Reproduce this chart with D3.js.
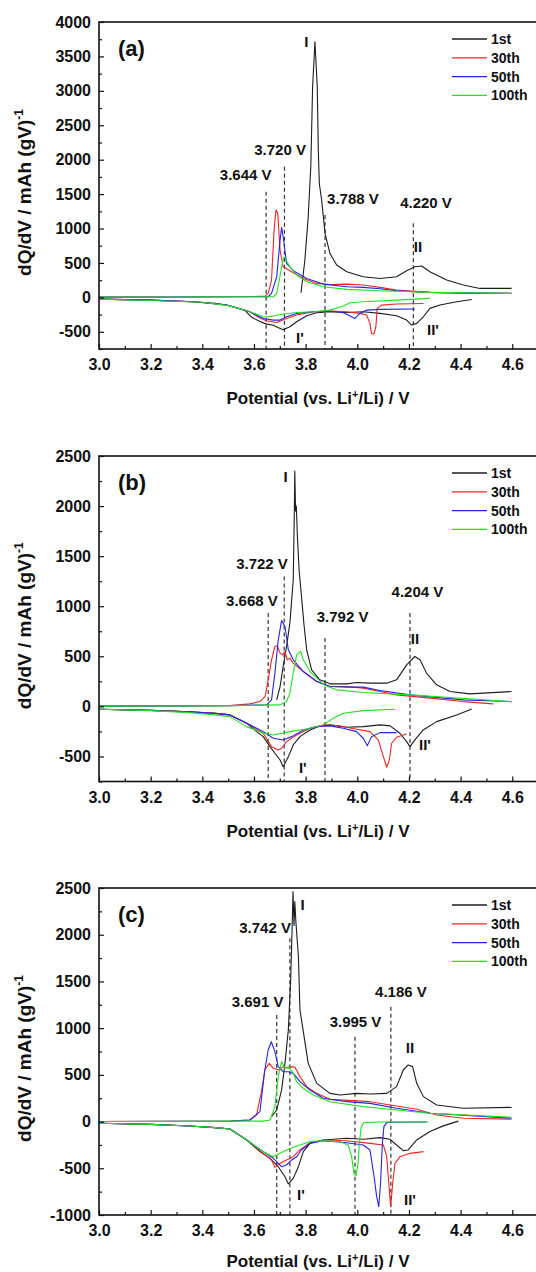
<!DOCTYPE html>
<html>
<head>
<meta charset="utf-8">
<script src="https://cdn.jsdelivr.net/npm/d3@7"></script>
<style>
body { margin: 0; background: #fff; }
svg text { font-family: "Liberation Sans", Arial, sans-serif; font-weight: bold; fill: #111; }
</style>
</head>
<body>
<svg width="536" height="1272"></svg>
<script>
// ---- data: [potential V, dQ/dV] ----
var cycles = ['1st', '30th', '50th', '100th'];
var xTicks = [3.0, 3.2, 3.4, 3.6, 3.8, 4.0, 4.2, 4.4, 4.6];
var xDomain = [3.0, 4.7];

// panel (a)
var aYDomain = [-750, 4000];
var aYTicks = [-500, 0, 500, 1000, 1500, 2000, 2500, 3000, 3500, 4000];
var aCh1 = [[3.782,67],[3.797,540],[3.810,1170],[3.820,1900],[3.827,3060],[3.836,3714],[3.845,3060],[3.849,2140],[3.853,1650],[3.862,1414],[3.875,929],[3.894,639],[3.920,469],[3.959,372],[4.023,300],[4.088,275],[4.152,300],[4.191,387],[4.223,445],[4.249,455],[4.281,372],[4.346,251],[4.410,179],[4.475,130],[4.597,130]];
var aDis1 = [[3.0,-25],[3.2,-40],[3.365,-63],[3.45,-85],[3.494,-112],[3.53,-150],[3.565,-190],[3.591,-290],[3.623,-350],[3.646,-385],[3.675,-405],[3.695,-440],[3.713,-470],[3.739,-427],[3.765,-354],[3.804,-267],[3.843,-223],[3.894,-209],[3.959,-219],[4.023,-209],[4.088,-233],[4.152,-267],[4.191,-330],[4.210,-402],[4.230,-378],[4.256,-282],[4.281,-160],[4.320,-112],[4.385,-64],[4.443,-30]];
var aCh30 = [[3.0,3],[3.3,5],[3.507,9],[3.60,12],[3.643,19],[3.655,58],[3.668,252],[3.677,929],[3.685,1268],[3.692,1220],[3.701,687],[3.713,445],[3.739,387],[3.791,275],[3.843,203],[3.894,188],[3.959,193],[4.023,179],[4.088,145],[4.152,106],[4.281,72],[4.410,58],[4.597,58]];
var aDis30 = [[3.0,-25],[3.2,-40],[3.365,-63],[3.494,-110],[3.559,-180],[3.584,-210],[3.623,-300],[3.649,-340],[3.688,-364],[3.726,-306],[3.765,-257],[3.830,-209],[3.894,-199],[3.959,-209],[4.010,-233],[4.036,-257],[4.049,-378],[4.055,-524],[4.064,-533],[4.072,-427],[4.077,-160],[4.094,-112],[4.152,-97],[4.256,-88]];
var aCh50 = [[3.0,3],[3.3,5],[3.507,9],[3.655,9],[3.668,58],[3.688,300],[3.701,832],[3.707,1016],[3.713,881],[3.726,493],[3.752,387],[3.804,275],[3.868,193],[3.959,154],[4.023,145],[4.088,125],[4.152,96],[4.281,72],[4.597,58]];
var aDis50 = [[3.0,-25],[3.2,-40],[3.365,-63],[3.494,-110],[3.559,-180],[3.584,-210],[3.636,-306],[3.675,-330],[3.701,-330],[3.726,-282],[3.765,-233],[3.830,-209],[3.894,-199],[3.946,-223],[3.972,-272],[3.991,-306],[4.010,-233],[4.036,-185],[4.088,-175],[4.223,-170]];
var aCh100 = [[3.0,3],[3.3,5],[3.507,9],[3.675,9],[3.688,58],[3.698,252],[3.707,445],[3.716,590],[3.724,542],[3.739,445],[3.765,324],[3.804,227],[3.868,154],[3.959,116],[4.088,96],[4.281,72],[4.597,58]];
var aDis100 = [[3.0,-25],[3.2,-45],[3.4,-70],[3.5,-120],[3.56,-180],[3.62,-257],[3.636,-282],[3.66,-282],[3.701,-248],[3.765,-219],[3.830,-209],[3.894,-185],[3.946,-126],[3.972,-78],[4.023,-64],[4.152,-40],[4.281,-15]];
var aDashes = [[3.647,1534],[3.718,1898],[3.875,1196],[4.217,1075]];
var aNotes = [['3.644 V',3.568,1704],['3.720 V',3.701,2068],['3.788 V',3.983,1356],['4.220 V',4.266,1297],
              ['I',3.803,3637],['II',4.235,663],["I'",3.778,-664],["II'",4.293,-540]];

// panel (b)
var bYDomain = [-750, 2500];
var bYTicks = [-500, 0, 500, 1000, 1500, 2000, 2500];
var bCh1 = [[3.688,65],[3.701,198],[3.713,398],[3.726,598],[3.739,832],[3.752,1265],[3.756,1900],[3.758,2350],[3.761,1950],[3.764,2000],[3.768,1700],[3.775,1350],[3.784,1100],[3.793,832],[3.804,565],[3.823,365],[3.855,265],[3.894,225],[3.959,225],[3.997,238],[4.049,232],[4.114,232],[4.152,265],[4.191,415],[4.223,498],[4.243,465],[4.268,332],[4.307,215],[4.359,148],[4.436,125],[4.597,148]];
var bDis1 = [[3.0,-28],[3.2,-40],[3.35,-55],[3.45,-70],[3.507,-85],[3.572,-168],[3.610,-252],[3.636,-302],[3.662,-402],[3.681,-468],[3.701,-535],[3.713,-602],[3.720,-568],[3.733,-502],[3.752,-385],[3.778,-302],[3.817,-235],[3.855,-195],[3.894,-185],[3.959,-208],[4.023,-202],[4.088,-185],[4.127,-195],[4.165,-268],[4.191,-352],[4.204,-402],[4.223,-335],[4.255,-235],[4.307,-152],[4.385,-85],[4.443,-25]];
var bCh30 = [[3.0,3],[3.3,5],[3.507,8],[3.584,25],[3.623,48],[3.643,98],[3.655,265],[3.668,465],[3.681,598],[3.690,605],[3.701,532],[3.711,515],[3.720,548],[3.729,465],[3.739,482],[3.752,432],[3.791,348],[3.843,248],[3.894,198],[3.959,198],[4.023,182],[4.088,148],[4.152,115],[4.281,82],[4.410,48],[4.526,25]];
var bDis30 = [[3.0,-28],[3.2,-40],[3.35,-55],[3.45,-70],[3.507,-85],[3.572,-168],[3.636,-268],[3.668,-402],[3.694,-435],[3.707,-418],[3.726,-352],[3.765,-285],[3.817,-218],[3.868,-185],[3.933,-195],[3.997,-228],[4.049,-252],[4.081,-335],[4.101,-502],[4.114,-608],[4.124,-535],[4.133,-368],[4.152,-308],[4.191,-275]];
var bCh50 = [[3.0,3],[3.3,5],[3.507,8],[3.649,15],[3.668,65],[3.681,332],[3.694,665],[3.707,858],[3.720,798],[3.733,565],[3.752,465],[3.791,348],[3.843,248],[3.894,198],[3.959,192],[4.023,192],[4.088,158],[4.204,115],[4.410,65],[4.597,48]];
var bDis50 = [[3.0,-28],[3.2,-40],[3.35,-55],[3.45,-70],[3.507,-85],[3.572,-168],[3.636,-252],[3.675,-318],[3.713,-335],[3.746,-302],[3.791,-235],[3.843,-202],[3.894,-195],[3.946,-218],[3.997,-252],[4.023,-318],[4.039,-392],[4.055,-302],[4.088,-262],[4.152,-262]];
var bCh100 = [[3.0,3],[3.3,5],[3.507,8],[3.701,15],[3.726,48],[3.739,132],[3.752,332],[3.765,515],[3.781,548],[3.791,465],[3.817,348],[3.843,282],[3.875,208],[3.920,165],[4.023,138],[4.204,115],[4.597,48]];
var bDis100 = [[3.0,-28],[3.2,-42],[3.35,-62],[3.45,-85],[3.507,-102],[3.572,-202],[3.636,-268],[3.675,-285],[3.739,-252],[3.804,-225],[3.868,-185],[3.907,-118],[3.946,-68],[4.023,-42],[4.146,-28]];
var bDashes = [[3.655,932],[3.717,1298],[3.875,682],[4.204,932]];
var bNotes = [['3.668 V',3.592,1000],['3.722 V',3.631,1372],['3.792 V',3.943,838],['4.204 V',4.233,1092],
              ['I',3.722,2245],['II',4.223,625],["I'",3.789,-668],["II'",4.262,-435]];

// panel (c)
var cYDomain = [-1000, 2500];
var cYTicks = [-1000, -500, 0, 500, 1000, 1500, 2000, 2500];
var cCh1 = [[3.668,53],[3.688,124],[3.707,338],[3.720,623],[3.733,980],[3.742,1515],[3.747,2000],[3.751,2461],[3.755,2100],[3.758,2354],[3.762,2150],[3.772,1765],[3.778,1194],[3.794,909],[3.810,623],[3.843,409],[3.894,302],[3.933,285],[3.997,302],[4.049,295],[4.114,302],[4.152,374],[4.178,552],[4.197,606],[4.214,588],[4.230,409],[4.256,267],[4.307,178],[4.410,142],[4.597,152]];
var cDis1 = [[3.0,-18],[3.2,-30],[3.35,-48],[3.45,-65],[3.507,-80],[3.572,-197],[3.623,-322],[3.662,-393],[3.694,-483],[3.720,-590],[3.733,-668],[3.752,-608],[3.772,-483],[3.791,-322],[3.817,-233],[3.868,-197],[3.959,-179],[4.023,-190],[4.088,-172],[4.127,-190],[4.152,-251],[4.178,-311],[4.197,-304],[4.230,-197],[4.281,-107],[4.333,-46],[4.391,5]];
var cCh30 = [[3.0,0],[3.3,2],[3.507,5],[3.584,17],[3.610,70],[3.630,338],[3.642,552],[3.659,623],[3.675,570],[3.694,552],[3.713,588],[3.733,570],[3.746,588],[3.759,581],[3.778,481],[3.804,374],[3.843,302],[3.894,238],[3.984,224],[4.049,213],[4.152,167],[4.230,131],[4.307,71],[4.410,36],[4.597,26]];
var cDis30 = [[3.0,-18],[3.2,-30],[3.35,-48],[3.45,-65],[3.507,-80],[3.572,-197],[3.636,-340],[3.668,-411],[3.681,-490],[3.701,-447],[3.726,-411],[3.752,-376],[3.778,-304],[3.817,-226],[3.868,-197],[3.959,-205],[4.049,-233],[4.101,-251],[4.114,-376],[4.124,-732],[4.129,-910],[4.137,-661],[4.146,-447],[4.165,-376],[4.204,-340],[4.256,-322]];
var cCh50 = [[3.0,0],[3.3,2],[3.507,5],[3.584,17],[3.623,106],[3.642,552],[3.655,766],[3.667,855],[3.681,748],[3.694,588],[3.713,534],[3.733,534],[3.752,516],[3.778,427],[3.817,338],[3.868,249],[3.959,213],[4.049,195],[4.152,142],[4.281,89],[4.597,36]];
var cDis50 = [[3.0,-18],[3.2,-30],[3.35,-48],[3.45,-65],[3.507,-80],[3.572,-197],[3.636,-322],[3.675,-393],[3.707,-483],[3.726,-465],[3.746,-411],[3.765,-376],[3.784,-304],[3.817,-233],[3.868,-205],[3.959,-226],[4.023,-251],[4.049,-304],[4.065,-590],[4.075,-804],[4.083,-911],[4.090,-661],[4.097,-233],[4.103,-54],[4.114,-11],[4.127,-8],[4.268,-4]];
var cCh100 = [[3.0,0],[3.3,2],[3.507,5],[3.636,5],[3.662,17],[3.681,160],[3.694,481],[3.707,641],[3.720,570],[3.733,588],[3.752,516],[3.765,427],[3.791,356],[3.830,285],[3.894,213],[4.023,160],[4.152,124],[4.281,89],[4.597,47]];
var cDis100 = [[3.0,-18],[3.2,-30],[3.35,-48],[3.45,-65],[3.507,-80],[3.572,-197],[3.636,-322],[3.675,-376],[3.701,-340],[3.726,-304],[3.765,-262],[3.817,-215],[3.868,-205],[3.933,-215],[3.965,-251],[3.978,-376],[3.987,-554],[3.995,-583],[4.003,-447],[4.008,-233],[4.015,-54],[4.026,-11],[4.088,-4],[4.275,-4]];
var cDashes = [[3.688,1141],[3.739,1962],[3.991,909],[4.130,1230]];
var cNotes = [['3.691 V',3.614,1230],['3.742 V',3.643,2015],['3.995 V',3.993,1016],['4.186 V',4.169,1337],
              ['I',3.788,2265],['II',4.204,734],["I'",3.782,-839],["II'",4.204,-893]];

// ---- layout ----
var colors = ['#1c1c1c', '#f02424', '#2424e8', '#22e022'];

var panels = [
	{ tag: '(a)', top: 22, bottom: 349, titleY: 404, yDomain: aYDomain, yTicks: aYTicks,
	  curves: [[aCh1, aDis1], [aCh30, aDis30], [aCh50, aDis50], [aCh100, aDis100]], dashes: aDashes, notes: aNotes },
	{ tag: '(b)', top: 456, bottom: 781.5, titleY: 836.5, yDomain: bYDomain, yTicks: bYTicks,
	  curves: [[bCh1, bDis1], [bCh30, bDis30], [bCh50, bDis50], [bCh100, bDis100]], dashes: bDashes, notes: bNotes },
	{ tag: '(c)', top: 888, bottom: 1215, titleY: 1267, yDomain: cYDomain, yTicks: cYTicks,
	  curves: [[cCh1, cDis1], [cCh30, cDis30], [cCh50, cDis50], [cCh100, cDis100]], dashes: cDashes, notes: cNotes }
];

var svg = d3.select('svg');
var x = d3.scaleLinear().domain(xDomain).range([99, 99 + 1.7 * 258.3]);
var xMinor = d3.range(3.1, 4.7, 0.2);

panels.forEach(function(p){
	var y = d3.scaleLinear().domain(p.yDomain).range([p.bottom, p.top]);
	var g = svg.append('g');

	var line = d3.line()
		.x(function(d){ return x(d[0]); })
		.y(function(d){ return y(d[1]); });

	//dashed guide lines
	g.selectAll('line.guide')
		.data(p.dashes)
		.enter()
		.append('line')
		.attr('class', 'guide')
		.attr('x1', function(d){ return x(d[0]); })
		.attr('x2', function(d){ return x(d[0]); })
		.attr('y1', function(d){ return y(d[1]); })
		.attr('y2', p.bottom)
		.attr('stroke', '#333')
		.attr('stroke-width', 1.2)
		.attr('stroke-dasharray', '4,3');

	//curves, charge and discharge
	p.curves.forEach(function(pair, k){
		pair.forEach(function(pts){
			g.append('path')
				.attr('d', line(pts))
				.attr('fill', 'none')
				.attr('stroke', colors[k])
				.attr('stroke-width', 1.1)
				.attr('stroke-linejoin', 'round');
		});
	});

	//axes, ticks inward
	var xa = g.append('g').attr('transform', 'translate(0,' + p.bottom + ')')
		.call(d3.axisBottom(x).tickValues(xTicks).tickSize(-5).tickSizeOuter(0).tickPadding(10)
			.tickFormat(d3.format('.1f')));
	var xm = g.append('g').attr('transform', 'translate(0,' + p.bottom + ')')
		.call(d3.axisBottom(x).tickValues(xMinor).tickSize(-3).tickSizeOuter(0).tickFormat(''));
	var ya = g.append('g').attr('transform', 'translate(99,0)')
		.call(d3.axisLeft(y).tickValues(p.yTicks).tickSize(-5).tickSizeOuter(0).tickPadding(8)
			.tickFormat(function(d){ return String(d); }));
	var yMinor = d3.range(p.yDomain[0], p.yDomain[1], 250)
		.filter(function(v){ return v % 500 !== 0; });
	var ym = g.append('g').attr('transform', 'translate(99,0)')
		.call(d3.axisLeft(y).tickValues(yMinor).tickSize(-3).tickSizeOuter(0).tickFormat(''));

	[xa, xm, ya, ym].forEach(function(a){
		a.select('.domain').remove();
		a.selectAll('line').attr('stroke', '#111').attr('stroke-width', 1.2);
		a.selectAll('text').attr('font-size', 16).attr('fill', '#111')
			.attr('font-family', '"Liberation Sans", Arial, sans-serif').attr('font-weight', 'bold');
	});

	//frame
	g.append('rect')
		.attr('x', 99)
		.attr('y', p.top)
		.attr('width', x.range()[1] - 99)
		.attr('height', p.bottom - p.top)
		.attr('fill', 'none')
		.attr('stroke', '#111')
		.attr('stroke-width', 1.6);

	//voltage notes and peak names
	g.selectAll('text.note')
		.data(p.notes)
		.enter()
		.append('text')
		.attr('class', 'note')
		.attr('x', function(d){ return x(d[1]); })
		.attr('y', function(d){ return y(d[2]); })
		.attr('text-anchor', 'middle')
		.attr('font-size', 15)
		.text(function(d){ return d[0]; });

	//panel tag
	g.append('text')
		.attr('x', 118)
		.attr('y', p.top + 34)
		.attr('font-size', 22)
		.text(p.tag);

	//legend
	cycles.forEach(function(c, k){
		var ly = p.top + 17 + k * 18.8;
		g.append('line')
			.attr('x1', 452).attr('x2', 487)
			.attr('y1', ly).attr('y2', ly)
			.attr('stroke', colors[k])
			.attr('stroke-width', 1.3);
		g.append('text')
			.attr('x', 491)
			.attr('y', ly)
			.attr('dy', '0.36em')
			.attr('font-size', 14)
			.text(c);
	});

	//axis titles
	var xt = g.append('text')
		.attr('x', 318)
		.attr('y', p.titleY)
		.attr('text-anchor', 'middle')
		.attr('font-size', 17);
	xt.append('tspan').text('Potential (vs. Li');
	xt.append('tspan').attr('dy', -6).attr('font-size', 11).text('+');
	xt.append('tspan').attr('dy', 6).text('/Li) / V');

	var yt = g.append('text')
		.attr('transform', 'translate(31,' + ((p.top + p.bottom) / 2 + 7) + ') rotate(-90)')
		.attr('text-anchor', 'middle')
		.attr('font-size', 19);
	yt.append('tspan').text('dQ/dV / mAh (gV)');
	yt.append('tspan').attr('dy', -8).attr('font-size', 12).text('-1');
});
</script>
</body>
</html>
